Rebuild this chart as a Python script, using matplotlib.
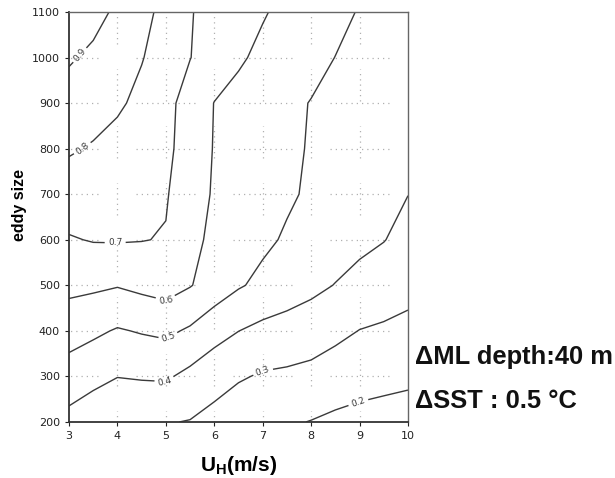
import numpy as np
import matplotlib.pyplot as plt

plt.rcParams['mathtext.fontset'] = 'custom'
plt.rcParams['mathtext.rm'] = 'Liberation Sans'
plt.rcParams['mathtext.bf'] = 'Liberation Sans:bold'

# wind speed (m/s) and eddy size grid
u_h = [3, 3.5, 4, 4.5, 5, 5.5, 6, 6.5, 7, 7.5, 8, 8.5, 9, 9.5, 10]
eddy_size = [200, 300, 400, 500, 600, 700, 800, 900, 1000, 1100]

# field values, one row per eddy size
row_200 = [0.37, 0.34, 0.315, 0.312, 0.305, 0.296, 0.265, 0.238, 0.223, 0.211, 0.197, 0.181, 0.172, 0.165, 0.158]
row_300 = [0.455, 0.427, 0.402, 0.408, 0.412, 0.375, 0.344, 0.31, 0.29, 0.284, 0.274, 0.253, 0.235, 0.226, 0.218]
row_400 = [0.541, 0.518, 0.492, 0.507, 0.519, 0.487, 0.433, 0.401, 0.375, 0.36, 0.346, 0.323, 0.298, 0.288, 0.279]
row_500 = [0.624, 0.617, 0.605, 0.623, 0.64, 0.605, 0.558, 0.509, 0.478, 0.451, 0.424, 0.397, 0.367, 0.347, 0.325]
row_600 = [0.693, 0.705, 0.707, 0.703, 0.695, 0.624, 0.581, 0.549, 0.517, 0.49, 0.468, 0.446, 0.425, 0.403, 0.37]
row_700 = [0.753, 0.75, 0.744, 0.73, 0.707, 0.647, 0.59, 0.564, 0.538, 0.512, 0.488, 0.466, 0.445, 0.423, 0.401]
row_800 = [0.81, 0.792, 0.766, 0.741, 0.715, 0.67, 0.594, 0.568, 0.542, 0.516, 0.494, 0.478, 0.462, 0.446, 0.43]
row_900 = [0.86, 0.838, 0.815, 0.775, 0.725, 0.665, 0.598, 0.572, 0.546, 0.519, 0.497, 0.488, 0.479, 0.469, 0.46]
row_1000 = [0.91, 0.882, 0.843, 0.805, 0.754, 0.702, 0.657, 0.612, 0.58, 0.553, 0.526, 0.499, 0.49, 0.478, 0.47]
row_1100 = [0.965, 0.93, 0.884, 0.83, 0.771, 0.705, 0.671, 0.639, 0.607, 0.578, 0.551, 0.523, 0.495, 0.487, 0.48]

levels = [0.2, 0.3, 0.4, 0.5, 0.6, 0.7, 0.8, 0.9]
label_pos = [(8.97, 244), (6.99, 314), (4.98, 288), (5.04, 387),
             (4.98, 457), (3.95, 580), (3.31, 797), (3.23, 1005)]

z = np.array([row_200, row_300, row_400, row_500, row_600,
              row_700, row_800, row_900, row_1000, row_1100])

fig = plt.figure(figsize=(6.15, 4.78), dpi=100)
ax = fig.add_axes([0.1122, 0.1172, 0.5512, 0.8577])

# broken dotted grid
grid_kw = dict(colors='#b0b0b0', linewidth=0.9, linestyles=(0, (1, 3.2)), zorder=0)
for yv in range(300, 1100, 100):
    for c in [3, 5, 7, 9]:
        ax.hlines(yv, c - 0.62, c + 0.62, **grid_kw)
for xv in range(4, 10):
    top = 1100
    while top > 200:
        ax.vlines(xv, max(top - 70, 200), top, **grid_kw)
        top -= 125

cs = ax.contour(u_h, eddy_size, z, levels=levels, colors='#3a3a3a', linewidths=1.0)
ax.clabel(cs, fmt='%.1f', fontsize=6.5, manual=label_pos, inline=True, inline_spacing=2)

ax.set_xlim(3, 10)
ax.set_ylim(200, 1100)
ax.set_xticks(range(3, 11))
ax.set_yticks(range(200, 1101, 100))
ax.tick_params(direction='out', length=3, width=0.8, labelsize=8, colors='#222222')

for side in ['left', 'bottom']:
    ax.spines[side].set_linewidth(1.3)
    ax.spines[side].set_color('#333333')
for side in ['top', 'right']:
    ax.spines[side].set_linewidth(1.0)
    ax.spines[side].set_color('#666666')

ax.set_ylabel('eddy size', family='Liberation Sans', fontweight='bold', fontsize=11.5)
ax.yaxis.set_label_coords(-0.124, 0.529)
ax.set_xlabel(r'U$_\mathbf{H}$(m/s)', family='Liberation Sans', fontweight='bold', fontsize=15)
ax.xaxis.set_label_coords(0.5, -0.078)

fig.text(0.675, 0.253, 'ΔML depth:40 m', family='Liberation Sans', fontweight='bold',
         fontsize=18.4, ha='left', va='center', color='#111111')
fig.text(0.675, 0.161, 'ΔSST : 0.5 °C', family='Liberation Sans', fontweight='bold',
         fontsize=18.4, ha='left', va='center', color='#111111')

fig.savefig('out.png', dpi=100)
